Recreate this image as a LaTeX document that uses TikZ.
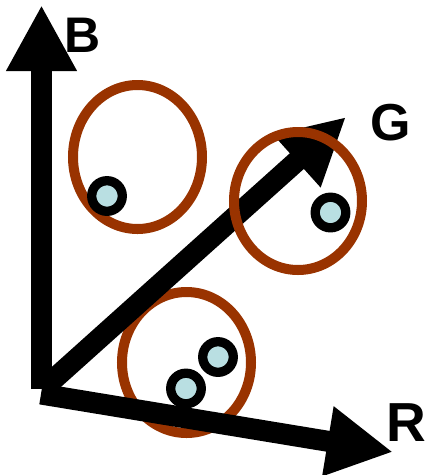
\documentclass[tikz,border=0pt]{standalone}
\usepackage{fontspec}
\setmainfont{Liberation Sans}
\usetikzlibrary{arrows.meta}
\definecolor{ringbrown}{HTML}{993300}
\definecolor{dotblue}{HTML}{B9DFE2}
\begin{document}
\begin{tikzpicture}[x=1pt,y=-1pt,
  axis/.style={line width=21pt, -{Triangle[length=66pt,width=66pt]}},
  ring/.style={draw=ringbrown, line width=10pt},
  dot/.style={circle, draw=black, fill=dotblue, line width=9.3pt, minimum size=30.6pt, inner sep=0pt},
  lbl/.style={inner sep=0pt, font=\bfseries\fontsize{50}{60}\selectfont}]
\useasboundingbox (0,0) rectangle (426,475);
% axis points
\coordinate (Bstart) at (41.5,389);
\coordinate (Btip) at (41.5,5);
\coordinate (Rstart) at (41,394);
\coordinate (Rtip) at (393,452);
\coordinate (Gstart) at (44,388);
\coordinate (Gtip) at (346,117);
% lower ring (under the R axis)
\draw[ring] (186.5,362.5) ellipse [x radius=64.5, y radius=70.5];
% axes
\draw[axis] (Bstart) -- (Btip);
\draw[axis] (Rstart) -- (Rtip);
\draw[axis] (Gstart) -- (Gtip);
% other rings
\draw[ring] (137.5,157) ellipse [x radius=64.5, y radius=72];
\draw[ring] (298,201) ellipse [x radius=64, y radius=69];
% dots
\node[dot] (d1) at (107,196) {};
\node[dot] (d2) at (330.5,212.5) {};
\node[dot] (d3) at (218,357) {};
\node[dot] (d4) at (186,388.5) {};
% labels
\node[lbl] (lB) at (82.5,35) {B};
\node[lbl, font=\bfseries\fontsize{52}{60}\selectfont] (lG) at (391,122.5) {G};
\node[lbl, font=\bfseries\fontsize{55}{60}\selectfont] (lR) at (406.5,423) {R};
\end{tikzpicture}
\end{document}
